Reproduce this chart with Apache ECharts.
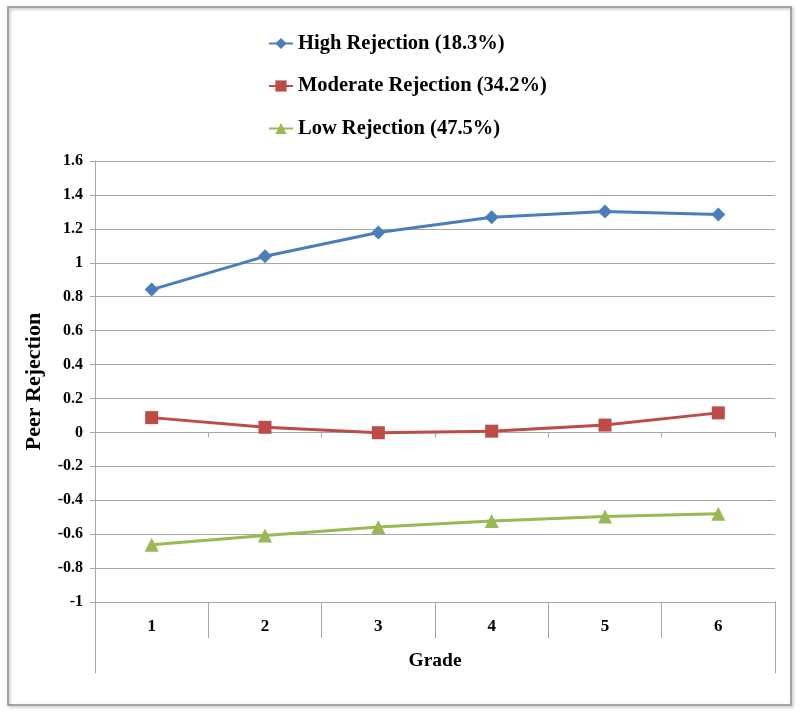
<!DOCTYPE html>
<html>
<head>
<meta charset="utf-8">
<script src="https://cdn.jsdelivr.net/npm/echarts@6/dist/echarts.min.js"></script>
<style>
html,body{margin:0;padding:0;background:#fff;}
#chart{width:800px;height:714px;}
</style>
</head>
<body>
<div id="chart"></div>
<script>
const grades = ['1', '2', '3', '4', '5', '6'];
const seriesNames = ['High Rejection (18.3%)', 'Moderate Rejection (34.2%)', 'Low Rejection (47.5%)'];
const highRejection = [0.842, 1.038, 1.179, 1.268, 1.302, 1.284];
const moderateRejection = [0.087, 0.030, -0.002, 0.007, 0.043, 0.115];
const lowRejection = [-0.663, -0.608, -0.558, -0.523, -0.496, -0.479];
const yMin = -1, yMax = 1.6, yStep = 0.2;

const FONT = '"Liberation Serif", "Times New Roman", serif';
const GRID_COLOR = '#a6a6a6';

const chart = echarts.init(document.getElementById('chart'), null, {renderer: 'canvas'});

const option = {
  backgroundColor: '#fff',
  animation: false,
  graphic: [{
    type: 'rect',
    shape: {x: 8, y: 7, width: 783, height: 698},
    style: {fill: 'none', stroke: '#8a8a8a', lineWidth: 1.5, shadowBlur: 3, shadowOffsetX: 1.5, shadowOffsetY: 1.5, shadowColor: 'rgba(0,0,0,0.35)'},
    z: -1
  }],
  legend: {
    orient: 'vertical',
    left: 263,
    top: 28,
    itemWidth: 24,
    itemHeight: 14,
    itemGap: 21.5,
    textStyle: {fontFamily: FONT, fontWeight: 'bold', fontSize: 20.5, color: '#000'},
    data: seriesNames
  },
  grid: [
    {left: 95, right: 25, top: 161, bottom: 112},
    {left: 95, right: 25, top: 602, bottom: 41}
  ],
  xAxis: [
    {
      type: 'category', gridIndex: 0, data: grades, position: 'bottom',
      boundaryGap: true,
      axisLine: {show: true, onZero: false, lineStyle: {color: GRID_COLOR, width: 1}},
      axisTick: {show: true, length: 36, lineStyle: {color: GRID_COLOR}},
      axisLabel: {fontFamily: FONT, fontWeight: 'bold', fontSize: 17, color: '#000', margin: 16},
      name: 'Grade', nameLocation: 'middle', nameGap: 49,
      nameTextStyle: {fontFamily: FONT, fontWeight: 'bold', fontSize: 19.5, color: '#000'}
    },
    {
      type: 'category', gridIndex: 0, data: grades, position: 'bottom',
      boundaryGap: true,
      axisLine: {show: true, onZero: true, lineStyle: {color: GRID_COLOR, width: 1}},
      axisTick: {show: true, length: 5, lineStyle: {color: GRID_COLOR}},
      axisLabel: {show: false}
    },
    {
      type: 'category', gridIndex: 1, data: grades, show: false
    }
  ],
  yAxis: [
    {
      type: 'value', gridIndex: 0, min: yMin, max: yMax, interval: yStep,
      axisLine: {show: true, lineStyle: {color: GRID_COLOR, width: 1}},
      axisTick: {show: true, length: 5, lineStyle: {color: GRID_COLOR}},
      splitLine: {show: true, lineStyle: {color: GRID_COLOR, width: 1}},
      axisLabel: {fontFamily: FONT, fontWeight: 'bold', fontSize: 16, color: '#000', margin: 12,
        formatter: v => String(Math.round(v * 10) / 10)},
      name: 'Peer Rejection', nameLocation: 'middle', nameRotate: 90, nameGap: 50,
      nameTextStyle: {fontFamily: FONT, fontWeight: 'bold', fontSize: 22, color: '#000'}
    },
    {
      type: 'value', gridIndex: 1, position: 'left', min: 0, max: 1,
      axisLine: {show: true, lineStyle: {color: GRID_COLOR, width: 1}},
      axisTick: {show: false}, axisLabel: {show: false}, splitLine: {show: false}
    },
    {
      type: 'value', gridIndex: 1, position: 'right', min: 0, max: 1,
      axisLine: {show: true, lineStyle: {color: GRID_COLOR, width: 1}},
      axisTick: {show: false}, axisLabel: {show: false}, splitLine: {show: false}
    }
  ],
  series: [
    {
      name: seriesNames[0], type: 'line', xAxisIndex: 0, yAxisIndex: 0,
      data: highRejection, symbol: 'diamond', symbolSize: 14,
      lineStyle: {color: '#4a7ebb', width: 3}, itemStyle: {color: '#4a7ebb'}
    },
    {
      name: seriesNames[1], type: 'line', xAxisIndex: 0, yAxisIndex: 0,
      data: moderateRejection, symbol: 'rect', symbolSize: 13,
      lineStyle: {color: '#be4b48', width: 3}, itemStyle: {color: '#be4b48'}
    },
    {
      name: seriesNames[2], type: 'line', xAxisIndex: 0, yAxisIndex: 0,
      data: lowRejection, symbol: 'triangle', symbolSize: 14,
      lineStyle: {color: '#98b954', width: 3}, itemStyle: {color: '#98b954'}
    }
  ]
};
chart.setOption(option);
</script>
</body>
</html>
